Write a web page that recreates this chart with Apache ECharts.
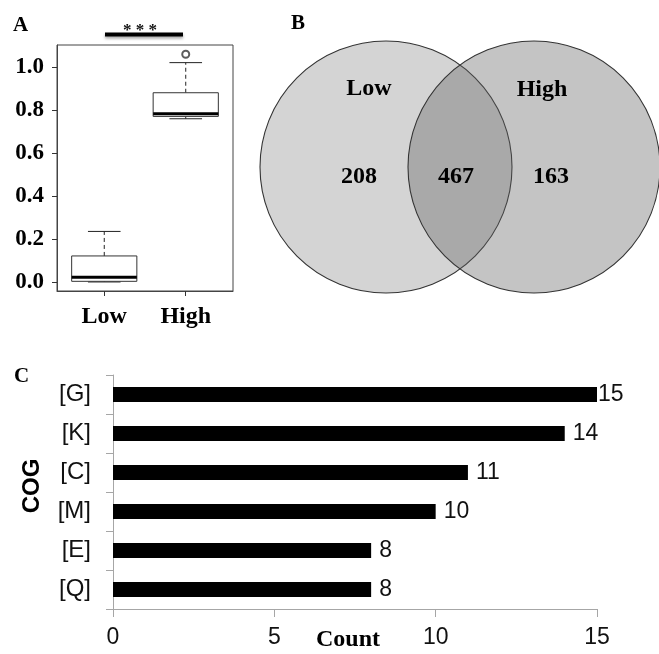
<!DOCTYPE html>
<html>
<head>
<meta charset="utf-8">
<script src="https://cdn.jsdelivr.net/npm/echarts@6/dist/echarts.min.js"></script>
<style>
  html, body { margin: 0; padding: 0; background: #fff; }
  #main { width: 659px; height: 654px; }
</style>
</head>
<body>
<div id="main"></div>
<script>
// ---- data ----
// panel A: box plot stats per group [min, q1, median, q3, max]
var boxGroups = ['Low', 'High'];
var boxLow = [0.0, 0.003, 0.022, 0.121, 0.235];
var boxHigh = [0.759, 0.770, 0.782, 0.880, 1.020];
var boxOutliers = [[2, 1.059]];
var boxTicks = [0, 0.2, 0.4, 0.6, 0.8, 1.0];

// panel B: venn counts
var vennSets = ['Low', 'High'];
var vennOnly = [208, 163];
var vennShared = 467;

// panel C: COG counts
var cogCategories = ['[G]', '[K]', '[C]', '[M]', '[E]', '[Q]'];
var cogCounts = [15, 14, 11, 10, 8, 8];

var SERIF = '"Liberation Serif", "Times New Roman", serif';
var SANS = '"Liberation Sans", Arial, sans-serif';

// venn layout (pixel-like units inside its hidden grid)
var vennLayout = {
  r: 126,
  centers: [[127, 126], [275, 126]],
  names: [[110, 48], [283, 49]],
  counts: [[100, 136], [292, 136]],
  shared: [197, 136]
};
var vennFill = ['rgba(96,96,96,0.27)', 'rgba(96,96,96,0.372)'];

var chart = echarts.init(document.getElementById('main'));

var boxData = [[1].concat(boxLow), [2].concat(boxHigh)];

var countPoints = vennOnly.map(function (v, i) {
  return [vennLayout.counts[i][0], vennLayout.counts[i][1], v];
});
countPoints.push([vennLayout.shared[0], vennLayout.shared[1], vennShared]);

var option = {
  backgroundColor: '#fff',
  animation: false,
  grid: [
    { left: 57, top: 45, width: 176, height: 246, outerBoundsMode: 'none', show: true, borderColor: '#444', borderWidth: 1, backgroundColor: 'transparent' },
    { left: 113, top: 375, width: 484, height: 234, outerBoundsMode: 'none' },
    { left: 259, top: 41, width: 400, height: 252, outerBoundsMode: 'none' }
  ],
  xAxis: [
    {
      gridIndex: 0, type: 'value', min: 0.42, max: 2.58, position: 'bottom',
      axisLine: { show: true, onZero: false, lineStyle: { color: '#444' } },
      splitLine: { show: false },
      axisTick: { show: true, inside: false, customValues: [1, 2], length: 5, lineStyle: { color: '#333' } },
      axisLabel: {
        customValues: [1, 2], margin: 14,
        formatter: function (v) { return boxGroups[Math.round(v) - 1]; },
        fontFamily: SERIF, fontWeight: 'bold', fontSize: 24, color: '#000'
      }
    },
    {
      gridIndex: 1, type: 'value', min: 0, max: 15, interval: 5,
      name: 'Count', nameLocation: 'middle', nameGap: 19, nameMoveOverlap: false,
      nameTextStyle: { fontFamily: SERIF, fontWeight: 'bold', fontSize: 24, color: '#000', padding: [0, 14, 0, 0] },
      axisLine: { show: true, lineStyle: { color: '#a6a6a6', width: 1 } },
      axisTick: { show: true, length: 8, lineStyle: { color: '#a6a6a6' } },
      splitLine: { show: false },
      axisLabel: { margin: 17, fontFamily: SANS, fontSize: 23, color: '#111' }
    },
    { gridIndex: 2, type: 'value', min: 0, max: 400, show: false }
  ],
  yAxis: [
    {
      gridIndex: 0, type: 'value', min: -0.042, max: 1.102, position: 'left',
      axisLine: { show: true, onZero: false, lineStyle: { color: '#444' } },
      splitLine: { show: false },
      axisTick: { show: true, inside: false, customValues: boxTicks, length: 5, lineStyle: { color: '#333' } },
      axisLabel: {
        customValues: boxTicks, margin: 13,
        formatter: function (v) { return v.toFixed(1); },
        fontFamily: SERIF, fontWeight: 'bold', fontSize: 23, color: '#000'
      }
    },
    {
      gridIndex: 1, type: 'category', inverse: true, data: cogCategories,
      name: 'COG', nameLocation: 'middle', nameGap: 69, nameMoveOverlap: false,
      nameTextStyle: { fontFamily: SANS, fontWeight: 'bold', fontSize: 24, color: '#000', padding: [0, 0, 0, 12] },
      axisLine: { show: true, lineStyle: { color: '#a6a6a6', width: 1 } },
      axisTick: { show: true, length: 7, lineStyle: { color: '#a6a6a6' } },
      axisLabel: { margin: 22, fontFamily: SANS, fontSize: 24, color: '#111' }
    },
    { gridIndex: 2, type: 'value', min: 0, max: 252, inverse: true, show: false }
  ],
  graphic: [
    { type: 'text', left: 13, top: 15, style: { text: 'A', font: 'bold 21px ' + SERIF, fill: '#000' } },
    { type: 'text', left: 291, top: 13, style: { text: 'B', font: 'bold 21px ' + SERIF, fill: '#000' } },
    { type: 'text', left: 14, top: 366, style: { text: 'C', font: 'bold 21px ' + SERIF, fill: '#000' } },
    {
      type: 'rect', shape: { x: 105, y: 32.5, width: 78, height: 4 },
      style: { fill: '#000', shadowBlur: 3, shadowOffsetY: 2, shadowColor: 'rgba(0,0,0,0.35)' }
    },
    {
      type: 'text', x: 140, y: 31,
      style: { text: '* * *', font: 'bold 17px ' + SERIF, fill: '#111', align: 'center', verticalAlign: 'middle' }
    }
  ],
  series: [
    {
      type: 'custom', xAxisIndex: 0, yAxisIndex: 0,
      data: boxData,
      encode: { x: 0, y: [1, 2, 3, 4, 5] },
      renderItem: function (params, api) {
        var x = api.value(0);
        var pMin = api.coord([x, api.value(1)]);
        var pQ1 = api.coord([x, api.value(2)]);
        var pMed = api.coord([x, api.value(3)]);
        var pQ3 = api.coord([x, api.value(4)]);
        var pMax = api.coord([x, api.value(5)]);
        var half = api.size([0.8, 0])[0] / 2;
        var cap = half / 2;
        var cx = pMed[0];
        var line = { stroke: '#222', lineWidth: 1 };
        var dash = { stroke: '#222', lineWidth: 1, lineDash: [4, 3] };
        return {
          type: 'group',
          children: [
            { type: 'line', shape: { x1: cx, y1: pQ3[1], x2: cx, y2: pMax[1] }, style: dash },
            { type: 'line', shape: { x1: cx, y1: pQ1[1], x2: cx, y2: pMin[1] }, style: dash },
            { type: 'line', shape: { x1: cx - cap, y1: pMax[1], x2: cx + cap, y2: pMax[1] }, style: line },
            { type: 'line', shape: { x1: cx - cap, y1: pMin[1], x2: cx + cap, y2: pMin[1] }, style: line },
            {
              type: 'rect',
              shape: { x: cx - half, y: pQ3[1], width: half * 2, height: pQ1[1] - pQ3[1] },
              style: { fill: '#fff', stroke: '#333', lineWidth: 1 }
            },
            { type: 'line', shape: { x1: cx - half, y1: pMed[1], x2: cx + half, y2: pMed[1] }, style: { stroke: '#000', lineWidth: 3 } }
          ]
        };
      }
    },
    {
      type: 'scatter', xAxisIndex: 0, yAxisIndex: 0, z: 5,
      data: boxOutliers, symbol: 'emptyCircle', symbolSize: 7,
      itemStyle: { color: '#333', borderColor: '#333', borderWidth: 1 }
    },
    {
      type: 'bar', xAxisIndex: 1, yAxisIndex: 1,
      barWidth: 15,
      itemStyle: { color: '#000' },
      data: cogCounts.map(function (v) {
        return { value: v, label: { distance: v >= 15 ? 1 : 8 } };
      }),
      label: { show: true, position: 'right', fontFamily: SANS, fontSize: 23, color: '#111' }
    },
    {
      type: 'custom', xAxisIndex: 2, yAxisIndex: 2, clip: false,
      data: vennSets.map(function (s, i) {
        return [vennLayout.centers[i][0], vennLayout.centers[i][1], i];
      }),
      renderItem: function (params, api) {
        var i = api.value(2);
        var c = api.coord([api.value(0), api.value(1)]);
        var r = api.size([vennLayout.r, 0])[0];
        return {
          type: 'circle', shape: { cx: c[0], cy: c[1], r: r },
          style: { fill: vennFill[i], stroke: '#333', lineWidth: 1.1 }
        };
      }
    },
    {
      type: 'custom', xAxisIndex: 2, yAxisIndex: 2, clip: false, z: 10,
      data: vennSets.map(function (s, i) {
        return [vennLayout.names[i][0], vennLayout.names[i][1], i];
      }),
      renderItem: function (params, api) {
        var p = api.coord([api.value(0), api.value(1)]);
        return {
          type: 'text', x: p[0], y: p[1],
          style: { text: vennSets[api.value(2)], font: 'bold 24px ' + SERIF, fill: '#000', align: 'center', verticalAlign: 'middle' }
        };
      }
    },
    {
      type: 'custom', xAxisIndex: 2, yAxisIndex: 2, clip: false, z: 10,
      data: countPoints,
      renderItem: function (params, api) {
        var p = api.coord([api.value(0), api.value(1)]);
        return {
          type: 'text', x: p[0], y: p[1],
          style: { text: String(api.value(2)), font: 'bold 24px ' + SERIF, fill: '#000', align: 'center', verticalAlign: 'middle' }
        };
      }
    }
  ]
};

chart.setOption(option);
</script>
</body>
</html>
